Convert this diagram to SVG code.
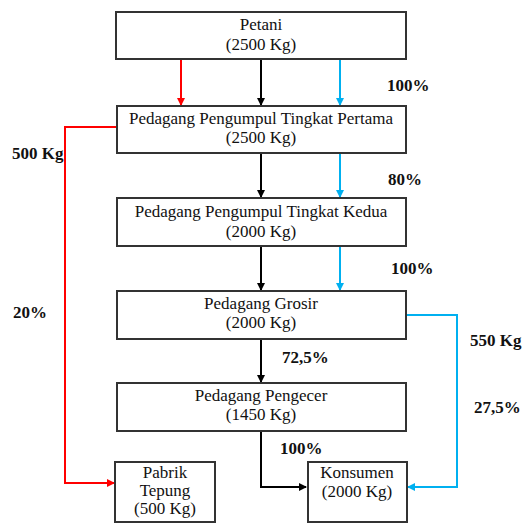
<svg xmlns="http://www.w3.org/2000/svg" width="522" height="523" viewBox="0 0 522 523">
<defs>
<style>
.box{fill:#fff;stroke:#333;stroke-width:2}
.t{font-family:"Liberation Serif","DejaVu Serif","Noto Serif",serif;font-size:17px;fill:#111;text-anchor:middle}
.l{font-family:"Liberation Serif","DejaVu Serif","Noto Serif",serif;font-size:17px;font-weight:bold;fill:#111}
.k{fill:none;stroke:#000;stroke-width:2}
.r{fill:none;stroke:#ff0000;stroke-width:2}
.b{fill:none;stroke:#00b0f0;stroke-width:2}
</style>
<marker id="ak" markerWidth="8" markerHeight="8" refX="7" refY="4" orient="auto" markerUnits="userSpaceOnUse"><path d="M0,0 L8,4 L0,8 Z" fill="#000"/></marker>
<marker id="ar" markerWidth="8" markerHeight="8" refX="7" refY="4" orient="auto" markerUnits="userSpaceOnUse"><path d="M0,0 L8,4 L0,8 Z" fill="#ff0000"/></marker>
<marker id="ab" markerWidth="8" markerHeight="8" refX="7" refY="4" orient="auto" markerUnits="userSpaceOnUse"><path d="M0,0 L8,4 L0,8 Z" fill="#00b0f0"/></marker>
</defs>
<rect width="522" height="523" fill="#fff"/>
<g id="connectors">
<path class="r" d="M181,59 V105" marker-end="url(#ar)"/>
<path class="k" d="M261,59 V105" marker-end="url(#ak)"/>
<path class="b" d="M340,59 V105" marker-end="url(#ab)"/>
<path class="r" d="M117,127 H65 V483 H114" marker-end="url(#ar)"/>
<path class="k" d="M261,153 V197" marker-end="url(#ak)"/>
<path class="b" d="M340,153 V197" marker-end="url(#ab)"/>
<path class="k" d="M261,246 V290" marker-end="url(#ak)"/>
<path class="b" d="M340,246 V290" marker-end="url(#ab)"/>
<path class="k" d="M261,339 V382" marker-end="url(#ak)"/>
<path class="b" d="M406,315 H457 V487 H408" marker-end="url(#ab)"/>
<path class="k" d="M261,431 V487 H306" marker-end="url(#ak)"/>
</g>
<g id="labels">
<text class="l" x="387" y="91">100%</text>
<text class="l" x="12" y="159">500 Kg</text>
<text class="l" x="388" y="185">80%</text>
<text class="l" x="391" y="274">100%</text>
<text class="l" x="13" y="318">20%</text>
<text class="l" x="470" y="346">550 Kg</text>
<text class="l" x="282" y="363">72,5%</text>
<text class="l" x="474" y="413">27,5%</text>
<text class="l" x="280" y="454">100%</text>
</g>
<g id="petani">
<rect class="box" x="116" y="12" width="290" height="47"/>
<text class="t" x="261" y="30">Petani</text>
<text class="t" x="261" y="50">(2500 Kg)</text>
</g>
<g id="pengumpul1">
<rect class="box" x="117" y="106" width="289" height="47"/>
<text class="t" x="261" y="124">Pedagang Pengumpul Tingkat Pertama</text>
<text class="t" x="261" y="143">(2500 Kg)</text>
</g>
<g id="pengumpul2">
<rect class="box" x="117" y="198" width="289" height="48"/>
<text class="t" x="261" y="217">Pedagang Pengumpul Tingkat Kedua</text>
<text class="t" x="261" y="237">(2000 Kg)</text>
</g>
<g id="grosir">
<rect class="box" x="117" y="291" width="289" height="48"/>
<text class="t" x="261" y="309">Pedagang Grosir</text>
<text class="t" x="261" y="328">(2000 Kg)</text>
</g>
<g id="pengecer">
<rect class="box" x="117" y="383" width="289" height="48"/>
<text class="t" x="261" y="401">Pedagang Pengecer</text>
<text class="t" x="261" y="420">(1450 Kg)</text>
</g>
<g id="pabrik">
<rect class="box" x="115" y="462" width="100" height="60"/>
<text class="t" x="165" y="478">Pabrik</text>
<text class="t" x="165" y="496">Tepung</text>
<text class="t" x="165" y="514">(500 Kg)</text>
</g>
<g id="konsumen">
<rect class="box" x="308" y="462" width="99" height="60"/>
<text class="t" x="357" y="478">Konsumen</text>
<text class="t" x="357" y="497">(2000 Kg)</text>
</g>
</svg>
